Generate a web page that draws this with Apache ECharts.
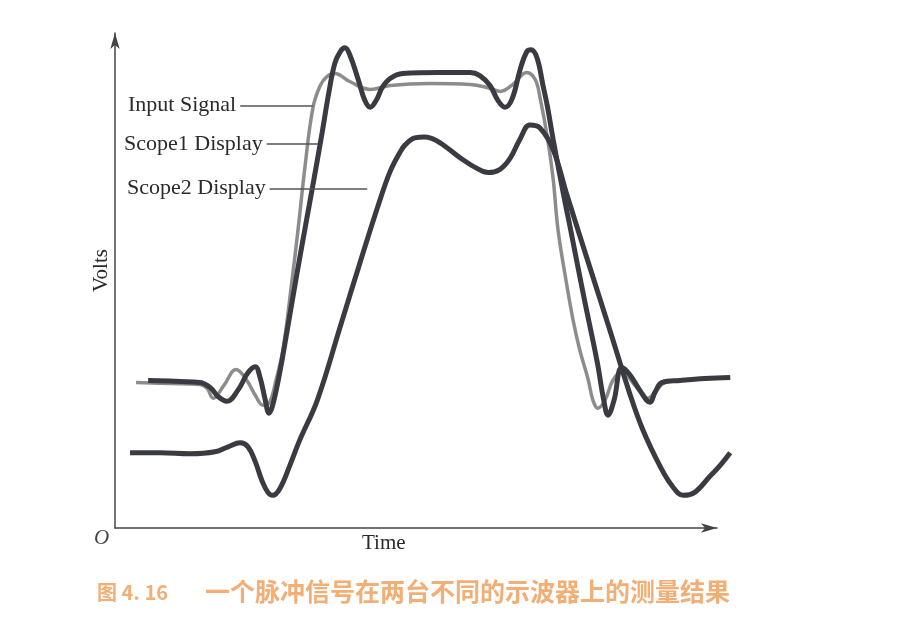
<!DOCTYPE html>
<html>
<head>
<meta charset="utf-8">
<script src="https://cdn.jsdelivr.net/npm/echarts@6/dist/echarts.min.js"></script>
<style>html,body{margin:0;padding:0;background:#fff}#c{width:910px;height:628px}</style>
</head>
<body>
<div id="c"></div>
<script>
// time (ns, arbitrary) and volts (arbitrary)
const inputSignal = [[3.5,1.47],[9.1,1.46],[14.1,1.45],[15.3,1.41],[16.3,1.31],[18.1,1.44],[20.1,1.60],[21.8,1.50],[23.4,1.33],[24.6,1.24],[25.6,1.26],[26.74,1.49],[27.9,1.80],[29.2,2.40],[30.4,3.01],[31.6,3.67],[32.9,4.25],[34.1,4.47],[35.2,4.56],[36.5,4.59],[39.0,4.51],[42.4,4.43],[45.7,4.47],[52.3,4.49],[59.0,4.48],[61.8,4.45],[64.0,4.41],[66.1,4.48],[68.4,4.60],[69.8,4.53],[70.6,4.35],[71.9,3.92],[72.8,3.52],[73.6,3.01],[74.9,2.51],[76.1,2.10],[77.2,1.80],[78.6,1.50],[79.4,1.29],[80.2,1.21],[81.4,1.29],[82.7,1.49],[84.2,1.58],[86.4,1.44],[88.5,1.31],[89.7,1.37],[91.4,1.47],[96.0,1.50],[102.2,1.52]];
const scope1Display = [[5.5,1.49],[10.8,1.48],[14.1,1.47],[15.8,1.42],[17.1,1.33],[18.6,1.28],[20.4,1.39],[22.1,1.57],[23.3,1.63],[24.1,1.52],[24.9,1.31],[25.6,1.16],[26.2,1.24],[27.4,1.58],[28.7,2.03],[30.2,2.56],[31.7,3.07],[33.1,3.54],[34.4,3.99],[35.5,4.39],[36.5,4.69],[37.4,4.81],[38.2,4.85],[39.0,4.78],[40.4,4.53],[41.5,4.32],[42.4,4.25],[43.4,4.32],[44.4,4.45],[45.7,4.54],[47.8,4.59],[54.0,4.60],[59.0,4.60],[60.6,4.57],[62.3,4.47],[63.6,4.32],[64.8,4.25],[66.0,4.34],[67.3,4.63],[68.4,4.81],[69.1,4.83],[70.1,4.75],[71.1,4.47],[71.8,4.27],[72.8,3.92],[74.6,3.34],[75.7,3.01],[77.9,2.33],[80.1,1.68],[81.2,1.29],[81.9,1.14],[82.9,1.29],[84.2,1.62],[85.5,1.55],[87.2,1.39],[88.9,1.27],[89.7,1.37],[90.9,1.47],[93.9,1.49],[98.0,1.51],[102.2,1.52]];
const scope2Display = [[2.5,0.76],[7.5,0.76],[12.5,0.75],[16.6,0.77],[18.8,0.82],[20.8,0.86],[22.1,0.82],[23.3,0.67],[24.4,0.48],[25.4,0.36],[26.2,0.33],[27.4,0.40],[29.1,0.64],[30.7,0.89],[33.6,1.29],[37.4,2.03],[40.7,2.68],[44.0,3.31],[45.7,3.60],[47.3,3.79],[48.2,3.87],[49.8,3.94],[51.5,3.95],[53.5,3.91],[55.6,3.82],[57.8,3.72],[59.9,3.64],[62.0,3.59],[63.9,3.62],[65.6,3.73],[67.3,3.93],[68.9,4.07],[70.6,4.04],[72.8,3.82],[75.1,3.36],[78.9,2.63],[82.2,2.00],[85.5,1.36],[87.7,0.99],[90.5,0.63],[92.5,0.43],[94.4,0.33],[96.3,0.36],[98.8,0.52],[100.5,0.63],[102.2,0.76]];
// leader lines for labels: [startTime, endTime, volts]
const leaderInput = [20.8, 32.9, 4.27];
const leaderScope1 = [25.2, 33.7, 3.88];
const leaderScope2 = [25.7, 41.9, 3.43];
const seriesNames = ['Input Signal', 'Scope1 Display', 'Scope2 Display'];

const serif = "'Liberation Serif', 'DejaVu Serif', serif";
function leader(l, name) {
  return {
    silent: true, symbol: ['none','none'], animation: false,
    lineStyle: { color: '#555', width: 1.5, type: 'solid' },
    label: { show: true, position: 'start', distance: 4, formatter: name,
      fontFamily: serif, fontSize: 22, color: '#2a2a2a' },
    data: [[{ coord: [l[0], l[2]] }, { coord: [l[1], l[2]] }]]
  };
}
const axisLineStyle = { show: true, lineStyle: { color: '#444', width: 1.5 }, symbol: ['none','arrow'], symbolSize: [7, 16] };
const chart = echarts.init(document.getElementById('c'), null, { renderer: 'canvas' });
chart.setOption({
  animation: false,
  backgroundColor: '#fff',
  grid: [
    { left: 115, top: 33, width: 615.2, height: 495 },
    { left: 115, top: 33, width: 602, height: 495 }
  ],
  xAxis: [
    { gridIndex: 0, type: 'value', min: 0, max: 102.2, show: false },
    { gridIndex: 1, type: 'value', min: 0, max: 100, axisLine: axisLineStyle,
      axisTick: { show: false }, axisLabel: { show: false }, splitLine: { show: false } }
  ],
  yAxis: [
    { gridIndex: 0, type: 'value', min: 0, max: 5, show: false },
    { gridIndex: 1, type: 'value', min: 0, max: 5,
      name: 'Volts', nameLocation: 'middle', nameGap: 3,
      nameTextStyle: { fontFamily: serif, fontSize: 21, color: '#2a2a2a', padding: [0, 0, 0, 20] },
      axisLine: axisLineStyle,
      axisTick: { show: false }, axisLabel: { show: false }, splitLine: { show: false } }
  ],
  series: [
    { name: seriesNames[0], type: 'line', data: inputSignal, smooth: 0.4, showSymbol: false, clip: false,
      lineStyle: { color: '#8c8c8c', width: 3.5 }, markLine: leader(leaderInput, seriesNames[0]) },
    { name: seriesNames[2], type: 'line', data: scope2Display, smooth: 0.4, showSymbol: false, clip: false,
      lineStyle: { color: '#3a3a42', width: 5 }, markLine: leader(leaderScope2, seriesNames[2]) },
    { name: seriesNames[1], type: 'line', data: scope1Display, smooth: 0.4, showSymbol: false, clip: false,
      lineStyle: { color: '#3a3a42', width: 5 }, markLine: leader(leaderScope1, seriesNames[1]) }
  ],
  graphic: [
    { type: 'text', left: 94, top: 528, style: { text: 'O', font: "italic 21px 'Liberation Serif'", fill: '#444' } },
    { type: 'text', left: 362, top: 533, style: { text: 'Time', font: "21px 'Liberation Serif'", fill: '#2a2a2a' } },
    { type: 'text', left: 97, top: 582, style: { text: '图 4. 16', font: "bold 20px 'Noto Sans CJK SC'", fill: '#f2ae74' } },
    { type: 'text', left: 205, top: 579, style: { text: '一个脉冲信号在两台不同的示波器上的测量结果', font: "bold 25px 'Noto Sans CJK SC'", fill: '#f2ae74' } }
  ]
});
</script>
</body>
</html>
